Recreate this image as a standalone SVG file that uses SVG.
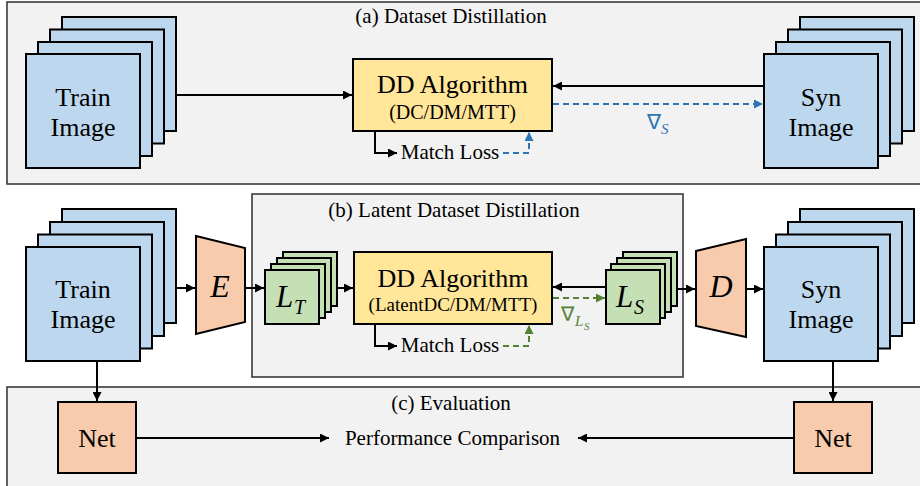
<svg xmlns="http://www.w3.org/2000/svg" width="920" height="486" viewBox="0 0 920 486">
<style>
.panel{fill:#F2F2F2;stroke:#3A3A3A;stroke-width:1.6}
.img{fill:#BDD7EE;stroke:#000;stroke-width:2}
.lat{fill:#C5E0B4;stroke:#000;stroke-width:2}
.dd{fill:#FFE699;stroke:#000;stroke-width:2}
.or{fill:#F8CBAD;stroke:#000;stroke-width:2}
.t{font-family:"Liberation Serif","Times New Roman",serif;fill:#000;text-anchor:middle}
.big{font-size:26px}
.mid{font-size:21px}
.it{font-style:italic}
.ln{fill:none;stroke:#000;stroke-width:2}
.bd{fill:none;stroke:#2E75B6;stroke-width:2;stroke-dasharray:6 4}
.gd{fill:none;stroke:#548235;stroke-width:2;stroke-dasharray:6 4}
</style>
<defs>
<marker id="ab" viewBox="0 0 10 10" refX="10" refY="5" markerWidth="4.5" markerHeight="4.5" orient="auto" markerUnits="strokeWidth"><path d="M0,0L10,5L0,10z" fill="#000"/></marker>
<marker id="abb" viewBox="0 0 10 10" refX="10" refY="5" markerWidth="4.5" markerHeight="4.5" orient="auto" markerUnits="strokeWidth"><path d="M0,0L10,5L0,10z" fill="#2E75B6"/></marker>
<marker id="abg" viewBox="0 0 10 10" refX="10" refY="5" markerWidth="4.5" markerHeight="4.5" orient="auto" markerUnits="strokeWidth"><path d="M0,0L10,5L0,10z" fill="#548235"/></marker>
</defs>

<g id="panels">
<rect class="panel" x="7" y="2" width="923" height="182"/>
<rect class="panel" x="252" y="194" width="431" height="183"/>
<rect class="panel" x="7" y="387" width="923" height="120"/>
<text class="t mid" x="451" y="23">(a) Dataset Distillation</text>
<text class="t mid" x="454" y="217">(b) Latent Dataset Distillation</text>
<text class="t mid" x="451" y="410">(c) Evaluation</text>
</g>

<g id="train-a">
<rect class="img" x="62" y="17" width="114" height="114"/>
<rect class="img" x="50" y="29.5" width="114" height="114"/>
<rect class="img" x="38" y="42" width="114" height="114"/>
<rect class="img" x="26" y="54" width="114" height="114"/>
<text class="t big" x="83" y="106">Train</text>
<text class="t big" x="83" y="136">Image</text>
</g>

<g id="dd-a">
<rect class="dd" x="353" y="59" width="199" height="72"/>
<text class="t big" x="452.5" y="93">DD Algorithm</text>
<text class="t" style="font-size:20px" x="452.5" y="119">(DC/DM/MTT)</text>
</g>

<g id="matchloss-a">
<text class="t mid" x="450" y="159">Match Loss</text>
</g>

<g id="syn-a">
<rect class="img" x="800" y="17" width="114" height="114"/>
<rect class="img" x="788" y="29.5" width="114" height="114"/>
<rect class="img" x="776" y="42" width="114" height="114"/>
<rect class="img" x="764" y="54" width="114" height="114"/>
<text class="t big" x="821" y="106">Syn</text>
<text class="t big" x="821" y="136">Image</text>
</g>

<g id="grad-a">
<text x="647" y="129" style="font-family:'DejaVu Sans',sans-serif;font-size:21px;fill:#2E75B6">∇</text>
<text x="661" y="134" style="font-family:'Liberation Serif',serif;font-style:italic;font-size:15px;fill:#2E75B6">S</text>
</g>

<g id="train-b">
<rect class="img" x="62" y="209" width="114" height="114"/>
<rect class="img" x="50" y="222" width="114" height="114"/>
<rect class="img" x="38" y="234.5" width="114" height="114"/>
<rect class="img" x="26" y="247" width="114" height="114"/>
<text class="t big" x="83" y="298">Train</text>
<text class="t big" x="83" y="328">Image</text>
</g>

<g id="encoder">
<polygon class="or" points="196,236 245,248 245,322 196,334"/>
<text class="t it" style="font-size:32px" x="220" y="297">E</text>
</g>

<g id="lt">
<rect class="lat" x="283" y="252" width="54" height="54"/>
<rect class="lat" x="277" y="258" width="54" height="54"/>
<rect class="lat" x="271" y="264" width="54" height="54"/>
<rect class="lat" x="265" y="270" width="54" height="54"/>
<text x="276" y="307" style="font-family:'Liberation Serif',serif;font-style:italic;font-size:31px">L</text>
<text x="294" y="314" style="font-family:'Liberation Serif',serif;font-style:italic;font-size:20px">T</text>
</g>

<g id="dd-b">
<rect class="dd" x="354" y="252" width="198" height="72"/>
<text class="t big" x="453" y="287">DD Algorithm</text>
<text class="t" style="font-size:19px" x="453" y="311">(LatentDC/DM/MTT)</text>
</g>

<g id="matchloss-b">
<text class="t mid" x="450" y="352">Match Loss</text>
</g>

<g id="ls">
<rect class="lat" x="623" y="252" width="54" height="54"/>
<rect class="lat" x="617" y="258" width="54" height="54"/>
<rect class="lat" x="611" y="264" width="54" height="54"/>
<rect class="lat" x="606" y="270" width="54" height="54"/>
<text x="616" y="307" style="font-family:'Liberation Serif',serif;font-style:italic;font-size:31px">L</text>
<text x="634" y="314" style="font-family:'Liberation Serif',serif;font-style:italic;font-size:20px">S</text>
</g>

<g id="grad-b">
<text x="561" y="321" style="font-family:'DejaVu Sans',sans-serif;font-size:20px;fill:#548235">∇</text>
<text x="575" y="326" style="font-family:'Liberation Serif',serif;font-style:italic;font-size:15px;fill:#548235">L</text>
<text x="584" y="330" style="font-family:'Liberation Serif',serif;font-style:italic;font-size:11px;fill:#548235">S</text>
</g>

<g id="decoder">
<polygon class="or" points="696,251 746,239 746,337 696,326"/>
<text class="t it" style="font-size:32px" x="721" y="297">D</text>
</g>

<g id="syn-b">
<rect class="img" x="800" y="209" width="114" height="114"/>
<rect class="img" x="788" y="222" width="114" height="114"/>
<rect class="img" x="776" y="234.5" width="114" height="114"/>
<rect class="img" x="764" y="247" width="114" height="114"/>
<text class="t big" x="821" y="298">Syn</text>
<text class="t big" x="821" y="328">Image</text>
</g>

<g id="net-left">
<rect class="or" x="58" y="402" width="78" height="71"/>
<text class="t" style="font-size:26px" x="97" y="447">Net</text>
</g>

<g id="net-right">
<rect class="or" x="794" y="402" width="78" height="71"/>
<text class="t" style="font-size:26px" x="833" y="447">Net</text>
</g>

<g id="perf">
<text class="t mid" x="452.5" y="445">Performance Comparison</text>
</g>

<g id="connectors">
<line class="ln" x1="176" y1="95" x2="352" y2="95" marker-end="url(#ab)"/>
<line class="ln" x1="764" y1="86" x2="553" y2="86" marker-end="url(#ab)"/>
<line class="bd" x1="553" y1="104" x2="763" y2="104" marker-end="url(#abb)"/>
<polyline class="ln" points="375,131 375,153 397,153" marker-end="url(#ab)"/>
<polyline class="bd" points="503,153 529,153 529,132" marker-end="url(#abb)"/>

<line class="ln" x1="176" y1="288" x2="195" y2="288" marker-end="url(#ab)"/>
<line class="ln" x1="245" y1="288" x2="264" y2="288" marker-end="url(#ab)"/>
<line class="ln" x1="337" y1="288" x2="353" y2="288" marker-end="url(#ab)"/>
<line class="ln" x1="606" y1="287" x2="553" y2="287" marker-end="url(#ab)"/>
<line class="gd" x1="553" y1="298" x2="605" y2="298" marker-end="url(#abg)"/>
<polyline class="ln" points="375,324 375,346 397,346" marker-end="url(#ab)"/>
<polyline class="gd" points="503,346 529,346 529,325" marker-end="url(#abg)"/>
<line class="ln" x1="677" y1="289" x2="695" y2="289" marker-end="url(#ab)"/>
<line class="ln" x1="746" y1="289" x2="763" y2="289" marker-end="url(#ab)"/>

<line class="ln" x1="97" y1="361" x2="97" y2="401" marker-end="url(#ab)"/>
<line class="ln" x1="833" y1="361" x2="833" y2="401" marker-end="url(#ab)"/>
<line class="ln" x1="136" y1="438" x2="329" y2="438" marker-end="url(#ab)"/>
<line class="ln" x1="794" y1="438" x2="578" y2="438" marker-end="url(#ab)"/>
</g>
</svg>
